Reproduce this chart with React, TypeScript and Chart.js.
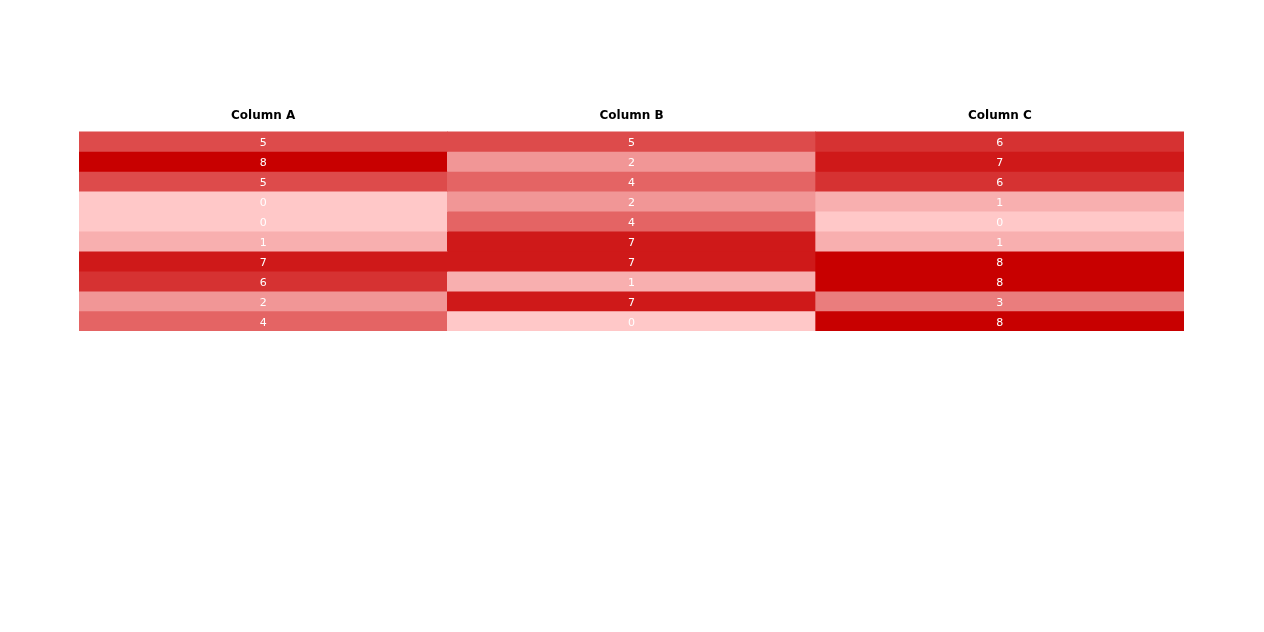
import React, { useEffect, useRef } from "react";
import { Chart, registerables } from "chart.js";

Chart.register(...registerables);

const columns = ["Column A", "Column B", "Column C"];
const rowLabels = ["1", "2", "3", "4", "5", "6", "7", "8", "9", "10"];
const columnA = [5, 8, 5, 0, 0, 1, 7, 6, 2, 4];
const columnB = [5, 2, 4, 2, 4, 7, 7, 1, 7, 0];
const columnC = [6, 7, 6, 1, 0, 1, 8, 8, 3, 8];
const minValue = 0;
const maxValue = 8;
const lowColor = [255, 200, 200];
const highColor = [200, 0, 0];

function heatColor(v: number): string {
  const t = (v - minValue) / (maxValue - minValue);
  const c = lowColor.map((l, i) => Math.round(l + (highColor[i] - l) * t));
  return `rgb(${c[0]},${c[1]},${c[2]})`;
}

export default function App() {
  const ref = useRef<HTMLCanvasElement | null>(null);

  useEffect(() => {
    if (!ref.current) return;
    const cols = [columnA, columnB, columnC];
    const datasets = rowLabels.map((label, r) => {
      const values = cols.map((c) => c[r]);
      return {
        label,
        data: cols.map(() => [r, r + 1] as [number, number]),
        heat: values,
        backgroundColor: values.map(heatColor),
        borderWidth: 0,
        barPercentage: 1,
        categoryPercentage: 1,
      };
    });

    const valueLabels = {
      id: "valueLabels",
      afterDatasetsDraw(chart: any) {
        const ctx = chart.ctx;
        ctx.save();
        ctx.fillStyle = "#ffffff";
        ctx.font = "11px 'DejaVu Sans'";
        ctx.textAlign = "center";
        ctx.textBaseline = "middle";
        chart.data.datasets.forEach((ds: any, di: number) => {
          const meta = chart.getDatasetMeta(di);
          meta.data.forEach((el: any, i: number) => {
            const props = el.getProps(["x", "y", "base"], true);
            const cy = (props.y + props.base) / 2;
            ctx.fillText(String(ds.heat[i]), props.x, cy + 2);
          });
        });
        ctx.restore();
      },
    };

    const chart = new Chart(ref.current, {
      type: "bar",
      data: { labels: columns, datasets: datasets as any },
      options: {
        animation: false,
        responsive: true,
        maintainAspectRatio: false,
        layout: { padding: { top: 109, left: 79, right: 80, bottom: 301 } },
        plugins: { legend: { display: false }, tooltip: { enabled: false } },
        scales: {
          x: {
            position: "top",
            stacked: true,
            grid: { display: false },
            border: { display: false },
            ticks: {
              color: "#000000",
              padding: 0,
              font: { family: "'DejaVu Sans'", size: 12, weight: "bold" },
            },
          },
          y: {
            type: "linear",
            stacked: false,
            reverse: true,
            min: 0,
            max: rowLabels.length,
            display: false,
          },
        },
      },
      plugins: [valueLabels],
    });
    return () => chart.destroy();
  }, []);

  return (
    <div style={{ position: "fixed", left: 0, top: 0, width: 1264, height: 632, background: "#fff" }}>
      <canvas ref={ref} />
    </div>
  );
}
